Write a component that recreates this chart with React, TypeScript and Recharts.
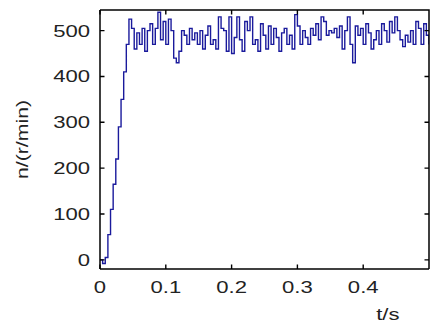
import { Line, LineChart, XAxis, YAxis, Label } from 'recharts'

// sampled motor speed, one value every 4 ms
const SAMPLE_STEP = 0.004
const speed = [
   0, -8, 5, 55, 110, 165, 220, 290, 350, 410, 470, 525, 505, 460, 495, 470,
   505, 455, 500, 515, 470, 505, 540, 480, 520, 470, 525, 500, 440, 430, 455, 500,
   490, 470, 505, 480, 495, 470, 500, 460, 490, 510, 470, 480, 460, 530, 505, 500,
   455, 530, 450, 485, 530, 480, 455, 520, 500, 530, 470, 480, 455, 515, 490, 460,
   510, 470, 505, 485, 455, 495, 505, 470, 490, 460, 535, 510, 470, 500, 485, 470,
   505, 490, 515, 480, 530, 520, 490, 500, 495, 505, 485, 510, 460, 500, 530, 470,
   430, 510, 490, 505, 470, 515, 495, 460, 480, 500, 470, 515, 500, 475, 520, 495,
   530, 500, 480, 465, 490, 475, 500, 470, 520, 505, 470, 515, 490, 470,
]
const xTicks = [0, 0.1, 0.2, 0.3, 0.4]
const yTicks = [0, 100, 200, 300, 400, 500]

const data = speed.map((n, i) => ({ t: Number((i * SAMPLE_STEP).toFixed(3)), n }))

const W = 431
const H = 324
const M = { top: 10, right: 2, bottom: 0, left: 0 }
const Y_AXIS_W = 100
const X_AXIS_H = 55
const PLOT_W = W - M.left - M.right - Y_AXIS_W
const PLOT_H = H - M.top - M.bottom - X_AXIS_H

const FONT = "Arial, 'Liberation Sans', sans-serif"
const STRETCH = 1.3
const AXIS = { stroke: '#000', strokeWidth: 1.5 }

// bottom tick also draws the matching inner tick on the top frame
function BottomTick({ x, y, payload }: any) {
   return (
      <g>
         <path d={`M${x},${y}V${y - 4.5}M${x},${y - PLOT_H}V${y - PLOT_H + 4.5}`} stroke="#000" strokeWidth={1.4} fill="none" />
         <text
            transform={`translate(${x},${y + 24}) scale(${STRETCH},1)`}
            textAnchor="middle"
            fontSize={17}
            fontFamily={FONT}
            fill="#222"
         >
            {payload.value}
         </text>
      </g>
   )
}

// left tick also draws the matching inner tick on the right frame
function LeftTick({ x, y, payload }: any) {
   return (
      <g>
         <path d={`M${x},${y}H${x + 4.5}M${x + PLOT_W},${y}H${x + PLOT_W - 4.5}`} stroke="#000" strokeWidth={1.4} fill="none" />
         <text
            transform={`translate(${x - 10},${y + 6}) scale(${STRETCH},1)`}
            textAnchor="end"
            fontSize={17}
            fontFamily={FONT}
            fill="#222"
         >
            {payload.value}
         </text>
      </g>
   )
}

// y-axis title, plus the box around the plot area
function YTitle({ viewBox }: any) {
   const left = viewBox.x + viewBox.width
   return (
      <g>
         <path
            d={`M${left},${viewBox.y}H${left + PLOT_W}V${viewBox.y + viewBox.height}`}
            stroke="#000"
            strokeWidth={1.5}
            fill="none"
         />
         <text
            transform={`translate(${viewBox.x + 28},${viewBox.y + viewBox.height / 2}) rotate(-90) scale(1.25,1)`}
            textAnchor="middle"
            fontSize={17}
            fontFamily={FONT}
            fill="#222"
         >
            n/(r/min)
         </text>
      </g>
   )
}

export default function App() {
   return (
      <div style={{ position: 'absolute', left: 0, top: 0, width: W, height: H, background: '#fff' }}>
         <LineChart width={W} height={H} data={data} margin={M}>
            <XAxis
               dataKey="t"
               type="number"
               domain={[0, 0.5]}
               ticks={xTicks}
               allowDataOverflow
               height={X_AXIS_H}
               tickSize={0}
               tickMargin={0}
               tickLine={false}
               axisLine={AXIS}
               tick={<BottomTick />}
            >
               <Label
                  content={({ viewBox }: any) => (
                     <text
                        transform={`translate(${viewBox.x + viewBox.width * 0.875},${viewBox.y + 51}) scale(${STRETCH},1)`}
                        textAnchor="middle"
                        fontSize={17}
                        fontFamily={FONT}
                        fill="#222"
                     >
                        t/s
                     </text>
                  )}
               />
            </XAxis>
            <YAxis
               type="number"
               domain={[-20, 545]}
               ticks={yTicks}
               allowDataOverflow
               width={Y_AXIS_W}
               tickSize={0}
               tickMargin={0}
               tickLine={false}
               axisLine={AXIS}
               tick={<LeftTick />}
            >
               <Label content={<YTitle />} />
            </YAxis>
            <Line
               type="stepAfter"
               dataKey="n"
               stroke="#1a1a9c"
               strokeWidth={1.4}
               dot={false}
               isAnimationActive={false}
            />
         </LineChart>
      </div>
   )
}
